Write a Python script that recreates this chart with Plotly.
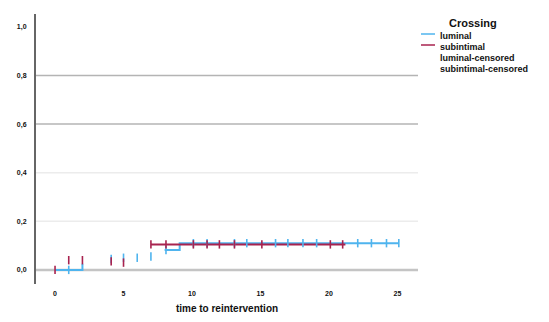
import plotly.graph_objects as go

# ---- data ----
# step curves (cumulative reintervention); hidden = horizontal run not visible in the reference
lum_times = [0, 2, 8, 9.1]
lum_values = [0.0, 0.025, 0.082, 0.11]
lum_hidden = [False, True, False, False]
lum_end = 25.1

sub_times = [0, 7]
sub_values = [0.04, 0.105]
sub_hidden = [True, False]
sub_end = 21.2

# censor marks
lum_cens_t = [1, 4.1, 5, 6, 7, 8.1, 10.1, 11.1, 13.1, 14.0, 16.1, 17.0, 18.1, 19.1, 22.1, 23.1, 24.2, 25.1]
lum_cens_y = [0.0, 0.045, 0.05, 0.05, 0.055, 0.082, 0.11, 0.11, 0.11, 0.11, 0.11, 0.11, 0.11, 0.11, 0.11, 0.11, 0.11, 0.11]
sub_cens_t = [0, 1, 2, 4.1, 5, 7, 8.1, 10.1, 11.1, 12.0, 13.1, 15.1, 20.1, 21.0]
sub_cens_y = [0.0, 0.04, 0.04, 0.035, 0.03, 0.105, 0.105, 0.105, 0.105, 0.105, 0.105, 0.105, 0.105, 0.105]

x_ticks = [0, 5, 10, 15, 20, 25]
y_ticks = [0.0, 0.2, 0.4, 0.6, 0.8, 1.0]
strong_ref = [0.6, 0.8]
light_ref = [0.2, 0.4]

legend_title = "Crossing"
legend_names = ["luminal", "subintimal", "luminal-censored", "subintimal-censored"]

BLUE = "#4fb4ee"
RED = "#a8234f"
FONT = "Liberation Sans"

# page body has an 8px margin: lay the figure out in screen pixels minus that offset
OFF = 8
W, H = 549 - OFF, 322 - OFF
L, T = 36 - OFF, 14 - OFF
PW, PH = 382, 270
R, B = W - L - PW, H - T - PH


def px(xs):
    return (xs - OFF - L) / PW


def py(ys):
    return 1 - (ys - OFF - T) / PH


def step_xy(times, values, end, hidden):
    xs, ys = [], []
    for i, (t, v) in enumerate(zip(times, values)):
        nxt = times[i + 1] if i + 1 < len(times) else end
        if i > 0 and not hidden[i - 1]:
            xs.append(t); ys.append(values[i - 1])
        elif i > 0:
            xs.append(None); ys.append(None)
        if hidden[i]:
            xs.append(t); ys.append(v)
            continue
        xs += [t, nxt]; ys += [v, v]
    return xs, ys


fig = go.Figure()

lx, ly = step_xy(lum_times, lum_values, lum_end, lum_hidden)
sx, sy = step_xy(sub_times, sub_values, sub_end, sub_hidden)

fig.add_trace(go.Scatter(x=lx, y=ly, mode="lines", name=legend_names[0],
                         line=dict(color=BLUE, width=2), connectgaps=False))
fig.add_trace(go.Scatter(x=sx, y=sy, mode="lines", name=legend_names[1],
                         line=dict(color=RED, width=2), connectgaps=False))
fig.add_trace(go.Scatter(x=lum_cens_t, y=lum_cens_y, mode="markers", name=legend_names[2],
                         marker=dict(symbol="line-ns", size=6, line=dict(color=BLUE, width=1.6))))
fig.add_trace(go.Scatter(x=sub_cens_t, y=sub_cens_y, mode="markers", name=legend_names[3],
                         marker=dict(symbol="line-ns", size=6, line=dict(color=RED, width=1.6))))

for v in strong_ref:
    fig.add_hline(y=v, line=dict(color="#b4b4b4", width=1.5), layer="below")
for v in light_ref:
    fig.add_hline(y=v, line=dict(color="#ececec", width=1.5), layer="below")
fig.add_hline(y=0, line=dict(color="#c4c4c4", width=2.5), layer="below")

# compact legend drawn as text annotations (SPSS-style spacing)
fig.add_annotation(xref="paper", yref="paper", x=px(473), y=py(23), text="<b>" + legend_title + "</b>",
                   showarrow=False, xanchor="center", yanchor="middle", font=dict(size=11, color="#111"))
icon_colors = [BLUE, RED, None, None]
for i, nm in enumerate(legend_names):
    ypix = 36 + 11 * i
    fig.add_annotation(xref="paper", yref="paper", x=px(438), y=py(ypix), text="<b>" + nm + "</b>",
                       showarrow=False, xanchor="left", yanchor="middle", font=dict(size=9, color="#111"))
    if icon_colors[i]:
        fig.add_shape(type="line", xref="paper", yref="paper", x0=px(421), x1=px(435),
                      y0=py(ypix - 2), y1=py(ypix - 2), line=dict(color=icon_colors[i], width=1.5))

fig.update_layout(
    width=W, height=H,
    margin=dict(l=L, r=R, t=T, b=B),
    paper_bgcolor="white", plot_bgcolor="white",
    separators=",.",
    font=dict(family=FONT, size=8, color="#222"),
    showlegend=False,
    xaxis=dict(range=[-1.39, 26.5], tickvals=x_ticks, showgrid=False, zeroline=False, automargin=False,
               showline=False, ticks="", tickfont=dict(size=7, color="#111", weight="bold"), ticklabelstandoff=4,
               title=dict(text="<b>time to reintervention</b>", font=dict(size=10, color="#111"), standoff=8)),
    yaxis=dict(range=[-0.058, 1.053], tickvals=y_ticks, tickformat=".1f", showgrid=False, automargin=False,
               zeroline=False, showline=True, linecolor="#666", linewidth=2, ticks="",
               tickfont=dict(size=7, color="#111", weight="bold"), ticklabelstandoff=6),
)

fig.write_html("out.html")
